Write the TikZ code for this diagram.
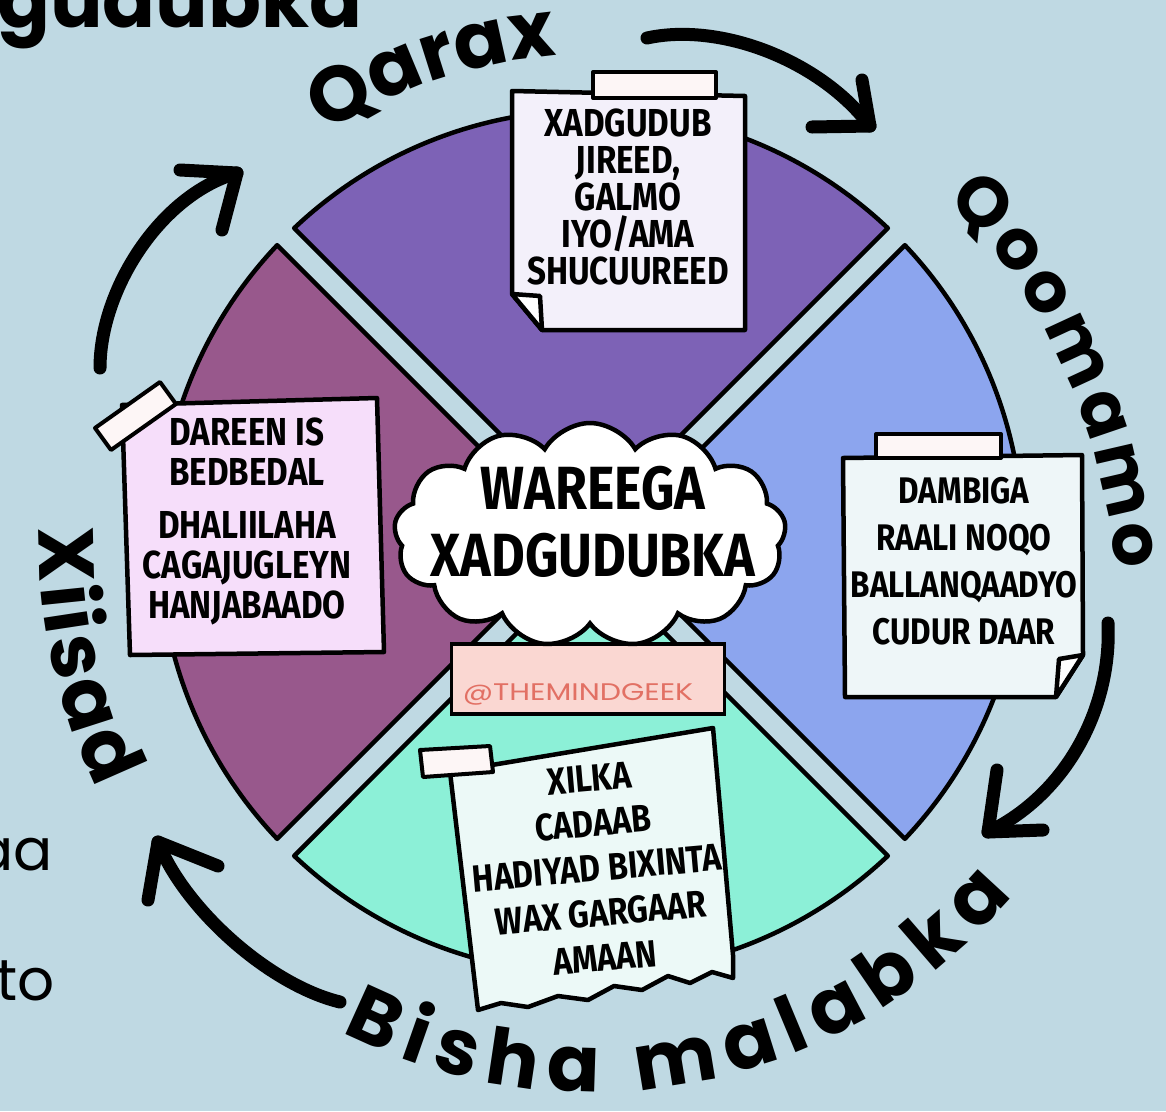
\documentclass[tikz,border=0pt]{standalone}
\usepackage{fontspec}
\usetikzlibrary{shapes.symbols,decorations.text,calc}
\newfontfamily\pop{Poppins}
\newfontfamily\popwide{Poppins}[FakeStretch=1.25]
\newfontfamily\hand{Fira Sans}[FakeStretch=0.85]
\newcommand\lblfont{\pop\bfseries\fontsize{78}{78}\selectfont}
\newcommand\lblfontb{\pop\bfseries\fontsize{70}{70}\selectfont}
\definecolor{bg}{RGB}{191,217,227}
\definecolor{purp}{RGB}{125,98,182}
\definecolor{blu}{RGB}{140,165,238}
\definecolor{mint}{RGB}{140,240,215}
\definecolor{mauve}{RGB}{152,88,140}
\definecolor{ntop}{RGB}{243,240,250}
\definecolor{nright}{RGB}{238,246,248}
\definecolor{nleft}{RGB}{246,222,250}
\definecolor{nbot}{RGB}{236,249,247}
\definecolor{tape}{RGB}{253,246,246}
\definecolor{tagpink}{RGB}{250,215,210}
\definecolor{tagtext}{RGB}{226,112,100}
\begin{document}
\begin{tikzpicture}[x=1pt,y=-1pt,
  sector/.style={draw=black,line width=4.5pt,line join=round},
  notebox/.style={draw=black,line width=4.5pt,line join=round},
  tapebox/.style={draw=black,line width=4pt,line join=round,fill=tape},
  notetext/.style={align=center,inner sep=0pt,font=\hand\bfseries\fontsize{39}{40}\selectfont},
  arrowline/.style={line width=13pt,line cap=round,line join=round},
  curvelabel/.style={decorate,decoration={text along path,text align={fit to path},#1}}
]
\clip (0,0) rectangle (1166,1111);
\fill[bg] (0,0) rectangle (1166,1111);

% partial background texts
\node[anchor=base west,inner sep=0pt] (hd) at (-3,27) {\pop\bfseries\fontsize{78}{78}\selectfont gudubka};
\node[anchor=base east,inner sep=0pt] (ta) at (53,870) {\pop\fontsize{58}{58}\selectfont aa};
\node[anchor=base east,inner sep=0pt] (tb) at (55,1000) {\pop\fontsize{58}{58}\selectfont to};

% wheel sectors
\coordinate (C) at (591,542);
\def\R{432}\def\ph{1.6}\def\dd{17}
\begin{scope}[shift={(591,542)}]
  \filldraw[sector,fill=purp] (270:\dd) -- ({225+\ph}:\R) arc[start angle={225+\ph},end angle={315-\ph},radius=\R] -- cycle;
  \filldraw[sector,fill=blu] (0:\dd) -- ({-45+\ph}:\R) arc[start angle={-45+\ph},end angle={45-\ph},radius=\R] -- cycle;
  \filldraw[sector,fill=mint] (90:\dd) -- ({45+\ph}:\R) arc[start angle={45+\ph},end angle={135-\ph},radius=\R] -- cycle;
  \filldraw[sector,fill=mauve] (180:\dd) -- ({135+\ph}:\R) arc[start angle={135+\ph},end angle={225-\ph},radius=\R] -- cycle;
\end{scope}

% tag under the cloud
\node[draw=black,fill=tagpink,line width=3.5pt,minimum width=273pt,minimum height=70pt,inner sep=0pt] (tag) at (588,679) {};
\node[text=tagtext,inner sep=0pt] (handle) at (578,694) {\popwide\fontsize{24}{24}\selectfont @THEMINDGEEK};

% cloud
\node[cloud,cloud puffs=13,cloud puff arc=120,cloud ignores aspect,draw=black,line width=4.5pt,fill=white,minimum width=392pt,minimum height=224pt,inner sep=0pt] (cl) at (590,535) {};
\node[align=center,inner sep=0pt,font=\hand\bfseries\fontsize{61}{67}\selectfont] (title) at (593,522) {WAREEGA\\XADGUDUBKA};

% top note
\filldraw[notebox,fill=ntop] (512,91) -- (745,96) -- (745,330) -- (542,330) -- (512,294) -- cycle;
\filldraw[notebox,fill=white] (512,294) -- (540,296) -- (542,330) -- cycle;
\filldraw[tapebox] (593,72) rectangle (716,98);
\node[notetext,font=\hand\bfseries\fontsize{39}{37}\selectfont] (ntopt) at (628,197) {XADGUDUB\\JIREED,\\GALMO\\IYO/AMA\\SHUCUUREED};

% right note
\filldraw[notebox,fill=nright] (843,458) -- (1082,455) -- (1083,655) -- (1056,697) -- (845,697) -- cycle;
\filldraw[notebox,fill=white] (1083,655) -- (1059,659) -- (1056,697) -- cycle;
\filldraw[tapebox] (876,434) rectangle (1001,458);
\node[notetext,font=\hand\bfseries\fontsize{37}{47}\selectfont] (nrightt) at (964,561) {DAMBIGA\\RAALI NOQO\\BALLANQAADYO\\CUDUR DAAR};

% left note
\filldraw[notebox,fill=nleft] (122,405) -- (377,398) -- (384,652) -- (130,655) -- cycle;
\filldraw[tapebox] (95,428) -- (160,382) -- (176,404) -- (111,450) -- cycle;
\node[notetext] (nleftt) at (247,521) {DAREEN IS\\BEDBEDAL\\[13pt]DHALIILAHA\\CAGAJUGLEYN\\HANJABAADO};

% bottom note (torn bottom edge)
\filldraw[notebox,fill=nbot] (450,772) -- (713,728) -- (733,955) -- (733,978) -- (712,972) -- (690,983) -- (668,976) -- (642,990) -- (614,986) -- (588,1000) -- (558,996) -- (528,1007) -- (501,1003) -- (478,1010) -- cycle;
\filldraw[tapebox] (420,750) -- (490,746) -- (493,772) -- (423,777) -- cycle;
\node[notetext,rotate=5,font=\hand\bfseries\fontsize{38}{45}\selectfont] (nbott) at (597,868) {XILKA\\CADAAB\\HADIYAD BIXINTA\\WAX GARGAAR\\AMAAN};

% curved labels
\begin{scope}[shift={(591,542)}]
  \path[curvelabel={text={|\lblfont|Qarax}}] (-123:487) arc[start angle=-123,end angle=-95,radius=487];
  \path[curvelabel={text={|\lblfont|Bisha malabka}}] (117:550) arc[start angle=117,end angle=40,radius=550];
  \path[curvelabel={text={|\lblfont|Xiisad}}] (181.5:552) arc[start angle=181.5,end angle=153.5,radius=552];
\end{scope}
\path[curvelabel={text={|\lblfontb|Qoomamo}}] (946,200) .. controls (1035,280) and (1102,420) .. (1116,570);

% cycle arrows
\coordinate (a1s) at (647,38); \coordinate (a1t) at (870,126);
\coordinate (a1l) at (862,80); \coordinate (a1r) at (812,127);
\draw[arrowline] (a1s) .. controls (720,22) and (820,60) .. (a1t);
\draw[arrowline] (a1l) -- (a1t) -- (a1r);

\coordinate (a2s) at (1108,623); \coordinate (a2t) at (988,832);
\coordinate (a2l) at (997,770); \coordinate (a2r) at (1043,830);
\draw[arrowline] (a2s) .. controls (1112,710) and (1065,795) .. (a2t);
\draw[arrowline] (a2l) -- (a2t) -- (a2r);

\coordinate (a3s) at (340,1002); \coordinate (a3t) at (158,842);
\coordinate (a3l) at (148,900); \coordinate (a3r) at (218,866);
\draw[arrowline] (a3s) .. controls (270,985) and (185,910) .. (a3t);
\draw[arrowline] (a3l) -- (a3t) -- (a3r);

\coordinate (a4s) at (100,368); \coordinate (a4t) at (237,173);
\coordinate (a4l) at (180,170); \coordinate (a4r) at (222,230);
\draw[arrowline] (a4s) .. controls (100,290) and (160,195) .. (a4t);
\draw[arrowline] (a4l) -- (a4t) -- (a4r);
\end{tikzpicture}
\end{document}
